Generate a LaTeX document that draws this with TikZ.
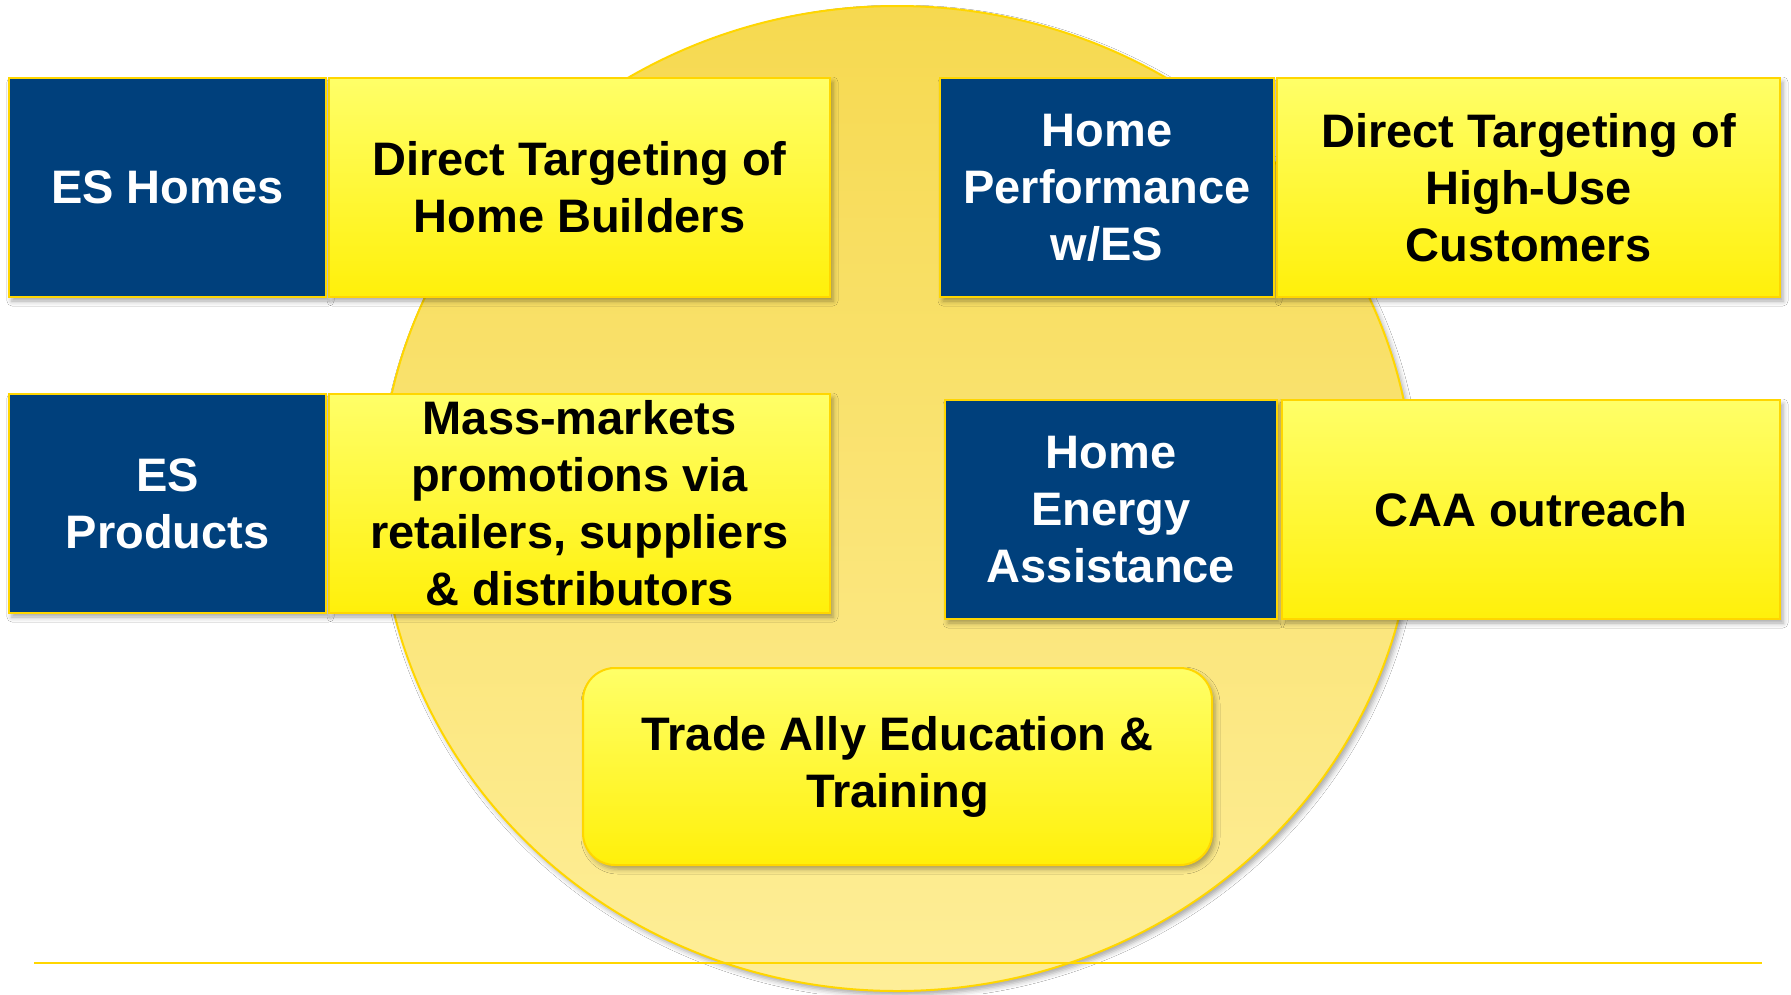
\documentclass[tikz,border=0pt]{standalone}
\usepackage{fontspec}
\setmainfont{Liberation Sans}
\usetikzlibrary{shadows.blur}

\definecolor{esblue}{RGB}{0,64,124}
\definecolor{esgold}{RGB}{255,214,0}
\definecolor{boxtop}{RGB}{255,255,104}
\definecolor{boxbottom}{RGB}{255,240,10}
\definecolor{disctop}{RGB}{246,217,80}
\definecolor{discbottom}{RGB}{254,238,152}

\begin{document}
\begin{tikzpicture}
      [x=1pt,y=-1pt,
       softshadow/.style={blur shadow={shadow xshift=3pt,shadow yshift=-4pt,
         shadow blur radius=5pt,shadow opacity=35}},
       tile/.style={rectangle,draw=esgold,line width=2pt,minimum height=219pt,
         inner sep=0pt,align=center,font=\bfseries\fontsize{47}{57}\selectfont,softshadow},
       program/.style={tile,fill=esblue,text=white},
       channel/.style={tile,top color=boxtop,bottom color=boxbottom,text=black}]
      \fill[white] (0,0) rectangle (1791,994) ;
      \useasboundingbox (0,0) rectangle (1791,994) ;
      % backdrop disc and base rule
      \draw[esgold,line width=2pt,top color=disctop,bottom color=discbottom,softshadow]
        (897,498.5) ellipse [x radius=517pt,y radius=492.5pt] ;
      \draw[esgold,line width=2.5pt] (34,963) -- (1762,963) ;
      % programs and their channels
      \node[program,minimum width=317pt] (eshomes) at (167.5,187.5) {ES Homes} ;
      \node[channel,minimum width=501pt] (builders) at (579.5,187.5) {Direct Targeting of\\Home Builders} ;
      \node[program,minimum width=334pt] (hperf) at (1107,187.5) {Home\\Performance\\w/ES} ;
      \node[channel,minimum width=503pt] (highuse) at (1528.5,187.5) {Direct Targeting of\\High-Use\\Customers} ;
      \node[program,minimum width=317pt] (esprod) at (167.5,503.5) {ES\\Products} ;
      \node[channel,minimum width=501pt] (massmkt) at (579.5,503.5) {Mass-markets\\promotions via\\retailers, suppliers\\\& distributors} ;
      \node[program,minimum width=332pt] (hea) at (1111,509.5) {Home\\Energy\\Assistance} ;
      \node[channel,minimum width=498pt] (caa) at (1531,509.5) {CAA outreach} ;
      \node[channel,rounded corners=32pt,minimum width=629pt,minimum height=197pt] (trade) at (897.5,766.5) {Trade Ally Education \&\\Training} ;
    \end{tikzpicture}
\end{document}
